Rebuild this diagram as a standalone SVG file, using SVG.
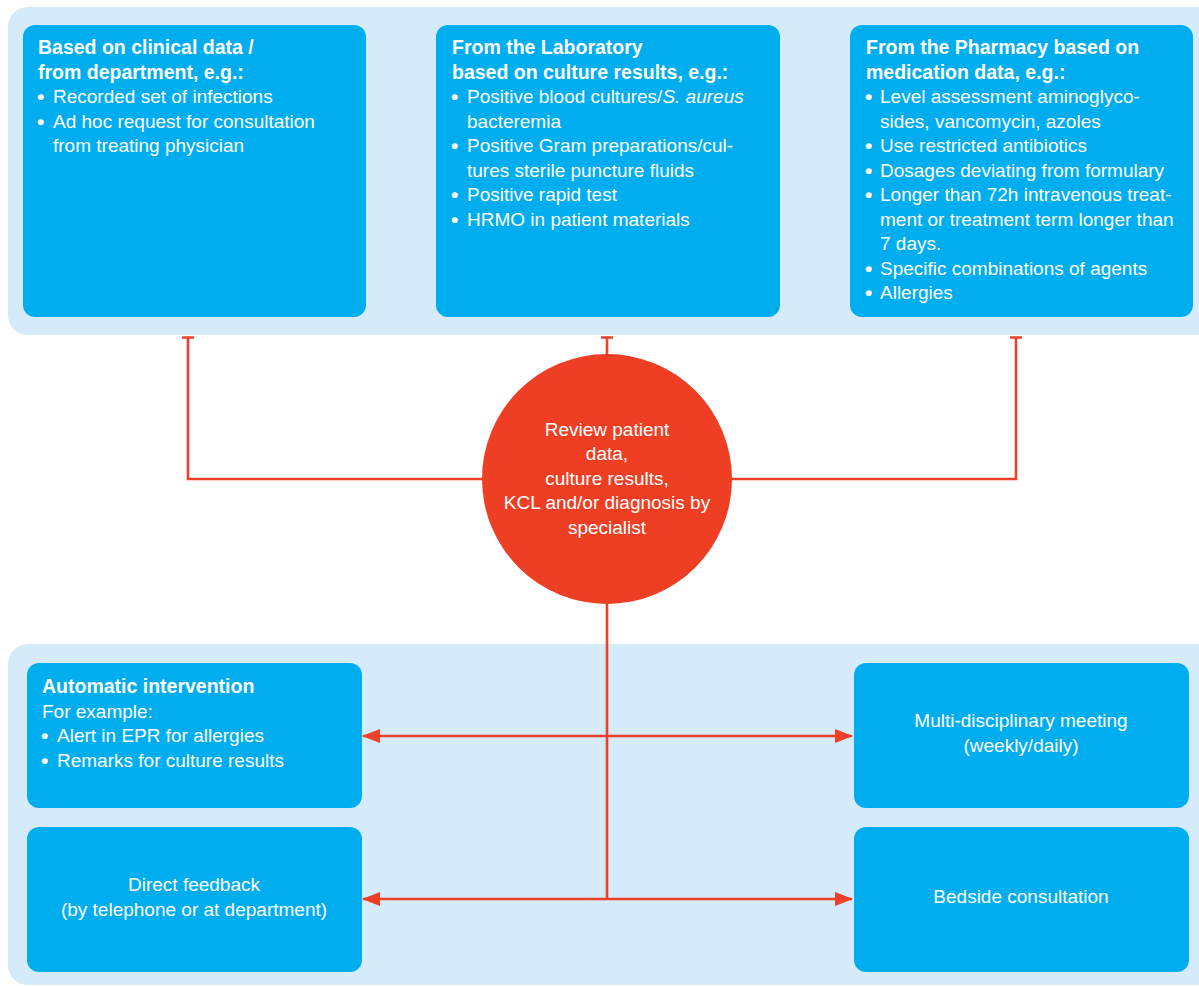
<svg xmlns="http://www.w3.org/2000/svg" width="1199" height="986" viewBox="0 0 1199 986">
<style>
.panel{fill:#D5EBF9}
.box{fill:#00AEEF}
.t{font-family:"Liberation Sans",Arial,sans-serif;font-size:19px;fill:#FFFFFF}
.b{font-weight:bold;font-size:19.5px}
.u{font-weight:bold;font-size:21px}
.c{text-anchor:middle}
.ln{stroke:#EE4028;stroke-width:2.6;fill:none}
</style>
<defs>
<marker id="ah" viewBox="0 0 18 14" refX="17" refY="7" markerWidth="18" markerHeight="14" markerUnits="userSpaceOnUse" orient="auto">
<path d="M0,0 L18,7 L0,14 Z" fill="#EE4028"/>
</marker>
</defs>
<rect class="panel" x="8" y="7" width="1211" height="328" rx="20"/>
<rect class="panel" x="8" y="644" width="1211" height="341" rx="20"/>
<g id="connectors">
<path class="ln" d="M188,337 V479 H490"/>
<path class="ln" d="M1016,337 V479 H725"/>
<path class="ln" d="M607,337 V358"/>
<path class="ln" d="M182,337.5 H194 M601,337.5 H613 M1010,337.5 H1022" stroke-width="3"/>
<path class="ln" d="M607,600 V899"/>
<path class="ln" d="M607,736 H363" marker-end="url(#ah)"/>
<path class="ln" d="M607,736 H852" marker-end="url(#ah)"/>
<path class="ln" d="M607,899 H363" marker-end="url(#ah)"/>
<path class="ln" d="M607,899 H852" marker-end="url(#ah)"/>
</g>
<g id="clinical">
<rect class="box" x="23" y="25" width="343" height="292" rx="12"/>
<text class="t b" x="38" y="54">Based on clinical data /</text>
<text class="t b" x="38" y="79">from department, e.g.:</text>
<text class="t u" x="37" y="104">•</text><text class="t" x="53" y="103">Recorded set of infections</text>
<text class="t u" x="37" y="129">•</text><text class="t" x="53" y="128">Ad hoc request for consultation</text>
<text class="t" x="53" y="152">from treating physician</text>
</g>
<g id="laboratory">
<rect class="box" x="436" y="25" width="344" height="292" rx="12"/>
<text class="t b" x="452" y="54">From the Laboratory</text>
<text class="t b" x="452" y="79">based on culture results, e.g.:</text>
<text class="t u" x="451" y="104">•</text><text class="t" x="467" y="103">Positive blood cultures/<tspan font-style="italic">S. aureus</tspan></text>
<text class="t" x="467" y="128">bacteremia</text>
<text class="t u" x="451" y="153">•</text><text class="t" x="467" y="152">Positive Gram preparations/cul-</text>
<text class="t" x="467" y="177">tures sterile puncture fluids</text>
<text class="t u" x="451" y="202">•</text><text class="t" x="467" y="201">Positive rapid test</text>
<text class="t u" x="451" y="227">•</text><text class="t" x="467" y="226">HRMO in patient materials</text>
</g>
<g id="pharmacy">
<rect class="box" x="850" y="25" width="343" height="292" rx="12"/>
<text class="t b" x="866" y="54">From the Pharmacy based on</text>
<text class="t b" x="866" y="79">medication data, e.g.:</text>
<text class="t u" x="865" y="104">•</text><text class="t" x="880" y="103">Level assessment aminoglyco-</text>
<text class="t" x="880" y="128">sides, vancomycin, azoles</text>
<text class="t u" x="865" y="153">•</text><text class="t" x="880" y="152">Use restricted antibiotics</text>
<text class="t u" x="865" y="178">•</text><text class="t" x="880" y="177">Dosages deviating from formulary</text>
<text class="t u" x="865" y="202">•</text><text class="t" x="880" y="201">Longer than 72h intravenous treat-</text>
<text class="t" x="880" y="226">ment or treatment term longer than</text>
<text class="t" x="880" y="250">7 days.</text>
<text class="t u" x="865" y="276">•</text><text class="t" x="880" y="275">Specific combinations of agents</text>
<text class="t u" x="865" y="300">•</text><text class="t" x="880" y="299">Allergies</text>
</g>
<g id="review">
<circle cx="607" cy="479" r="125" fill="#EE3E23"/>
<text class="t c" x="607" y="436">Review patient</text>
<text class="t c" x="607" y="460">data,</text>
<text class="t c" x="607" y="485">culture results,</text>
<text class="t c" x="607" y="509">KCL and/or diagnosis by</text>
<text class="t c" x="607" y="534">specialist</text>
</g>
<g id="automatic">
<rect class="box" x="27" y="663" width="335" height="145" rx="12"/>
<text class="t b" x="42" y="693">Automatic intervention</text>
<text class="t" x="42" y="718">For example:</text>
<text class="t u" x="41" y="743">•</text><text class="t" x="57" y="742">Alert in EPR for allergies</text>
<text class="t u" x="41" y="768">•</text><text class="t" x="57" y="767">Remarks for culture results</text>
</g>
<g id="direct">
<rect class="box" x="27" y="827" width="335" height="145" rx="12"/>
<text class="t c" x="194" y="891">Direct feedback</text>
<text class="t c" x="194" y="916">(by telephone or at department)</text>
</g>
<g id="meeting">
<rect class="box" x="854" y="663" width="335" height="145" rx="12"/>
<text class="t c" x="1021" y="727">Multi-disciplinary meeting</text>
<text class="t c" x="1021" y="752">(weekly/daily)</text>
</g>
<g id="bedside">
<rect class="box" x="854" y="827" width="335" height="145" rx="12"/>
<text class="t c" x="1021" y="903">Bedside consultation</text>
</g>
</svg>
